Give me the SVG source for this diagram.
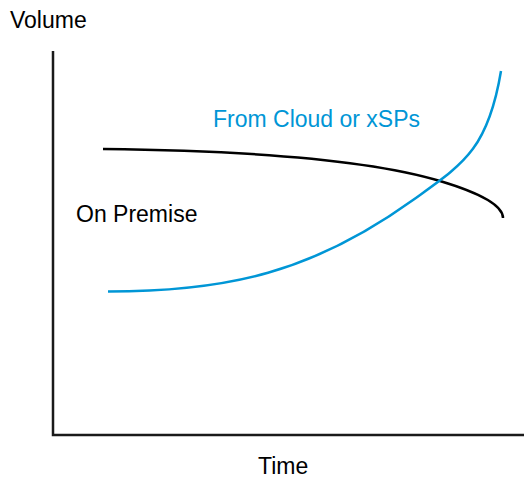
<svg xmlns="http://www.w3.org/2000/svg" width="524" height="478" viewBox="0 0 524 478">
<style>
.lbl{font-family:"Liberation Sans",Arial,sans-serif;font-size:23px;fill:#000}
.blue{fill:#0096d6}
.axis{stroke:#1a1a1a;stroke-width:2.5;fill:none}
.curve{fill:none;stroke-width:2.5}
</style>
<rect width="524" height="478" fill="#fff"/>
<g id="axes">
<path class="axis" d="M53,51 V435 H524"/>
</g>
<g id="connectors">
<path id="on-premise-curve" class="curve" stroke="#000" d="M103,149 C280,151 380,163 440,181 C480,193 503,205 503,218"/>
<path id="cloud-curve" class="curve" stroke="#0096d6" d="M108,291.5 C228,291.5 313,272 413,200 C463,164 487.9,149.9 501,71"/>
</g>
<g id="label-volume"><text class="lbl" x="10" y="27.5">Volume</text></g>
<g id="label-cloud"><text class="lbl blue" x="213" y="126.5">From Cloud or xSPs</text></g>
<g id="label-onpremise"><text class="lbl" x="76" y="221.5">On Premise</text></g>
<g id="label-time"><text class="lbl" x="258" y="474">Time</text></g>
</svg>
